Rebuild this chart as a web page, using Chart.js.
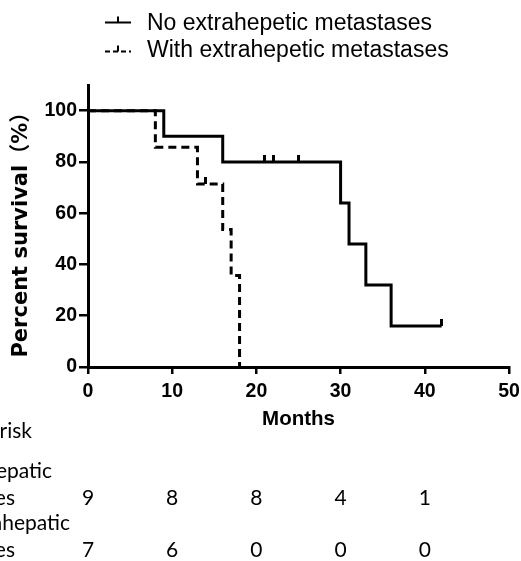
<!DOCTYPE html>
<html>
<head>
<meta charset="utf-8">
<script src="https://cdn.jsdelivr.net/npm/chart.js@4.4.1/dist/chart.umd.min.js"></script>
<style>
  html, body { margin: 0; padding: 0; background: #fff; }
  #wrap { width: 521px; height: 561px; }
</style>
</head>
<body>
<div id="wrap"><canvas id="km" width="521" height="561"></canvas></div>
<script>
// Kaplan-Meier curves, values
const groupNames = ['No extrahepetic metastases', 'With extrahepetic metastases'];

// time (months) of each step and survival (%) after it
const noExtTimes = [0, 9, 16, 30, 31, 33, 36, 42];
const noExtSurvival = [100, 90, 80, 64, 48, 32, 16, 16];
const noExtCensorTimes = [21, 22, 25, 42];
const noExtCensorSurvival = [80, 80, 80, 16];

const withExtTimes = [0, 8, 13, 16, 17, 18];
const withExtSurvival = [100, 85.7, 71.4, 53.6, 35.7, 0];
const withExtCensorTimes = [14];
const withExtCensorSurvival = [71.4];

const xTicks = [0, 10, 20, 30, 40, 50];
const yTicks = [0, 20, 40, 60, 80, 100];

// number at risk table
const riskTimes = [0, 10, 20, 30, 40];
const noExtAtRisk = [9, 8, 8, 4, 1];
const withExtAtRisk = [7, 6, 0, 0, 0];
const riskTitle = 'Number at risk';
const riskLabels = [['No extrahepatic', 'metastases'], ['With extrahepatic', 'metastases']];

const pts = (xs, ys) => xs.map((x, i) => ({ x, y: ys[i] }));

// small upward tick used for censored patients
function censorMark() {
    const c = document.createElement('canvas');
    c.width = 3;
    c.height = 14;
    const g = c.getContext('2d');
    g.fillStyle = '#000';
    g.fillRect(0, 0, 3, 7);
    return c;
}
const mark = censorMark();

const tickFont = { family: '"Liberation Sans", Arial, sans-serif', weight: 'bold', size: 19.5 };

// legend + at-risk table, drawn by hand
const extrasPlugin = {
    id: 'extras',
    afterDraw(chart) {
        const ctx = chart.ctx;
        const xs = chart.scales.x;
        ctx.save();
        ctx.fillStyle = '#000';
        ctx.strokeStyle = '#000';

        // legend
        ctx.font = '23px "Liberation Sans", Arial, sans-serif';
        ctx.textAlign = 'left';
        ctx.textBaseline = 'alphabetic';
        chart.data.datasets.slice(0, 2).forEach((ds, i) => {
            const ly = 22.5 + i * 29;
            ctx.lineWidth = 2;
            ctx.setLineDash(i === 1 ? [5, 3] : []);
            ctx.beginPath();
            ctx.moveTo(105, ly);
            ctx.lineTo(131, ly);
            ctx.stroke();
            ctx.setLineDash([]);
            ctx.beginPath();
            ctx.moveTo(118, ly);
            ctx.lineTo(118, ly - 6);
            ctx.stroke();
            ctx.fillText(ds.label, 147, 30 + i * 27);
        });

        // number at risk
        ctx.font = '21px Lato, "Open Sans", sans-serif';
        ctx.textAlign = 'right';
        ctx.fillText(riskTitle, 32, 438);
        ctx.fillText(riskLabels[0][0], 52, 478);
        ctx.fillText(riskLabels[0][1], 15, 505);
        ctx.fillText(riskLabels[1][0], 70, 530);
        ctx.fillText(riskLabels[1][1], 15, 557);

        ctx.textAlign = 'center';
        riskTimes.forEach((t, i) => {
            const px = xs.getPixelForValue(t);
            ctx.fillText(String(noExtAtRisk[i]), px, 505);
            ctx.fillText(String(withExtAtRisk[i]), px, 557);
        });
        ctx.restore();
    }
};

new Chart(document.getElementById('km'), {
    type: 'line',
    data: {
        datasets: [
            {
                label: groupNames[0],
                data: pts(noExtTimes, noExtSurvival),
                stepped: true,
                borderColor: '#000',
                borderWidth: 3,
                pointRadius: 0,
                fill: false
            },
            {
                label: groupNames[1],
                data: pts(withExtTimes, withExtSurvival),
                stepped: true,
                borderColor: '#000',
                borderWidth: 3,
                borderDash: [8, 5],
                pointRadius: 0,
                fill: false
            },
            {
                label: 'censored',
                data: pts(noExtCensorTimes, noExtCensorSurvival).concat(pts(withExtCensorTimes, withExtCensorSurvival)),
                showLine: false,
                pointStyle: mark,
                pointRadius: 5,
                borderColor: '#000',
                backgroundColor: '#000'
            }
        ]
    },
    options: {
        responsive: false,
        animation: false,
        layout: { padding: { top: 85, right: 12, bottom: 130, left: 0 } },
        plugins: {
            legend: { display: false },
            tooltip: { enabled: false }
        },
        scales: {
            x: {
                type: 'linear',
                min: 0,
                max: 50,
                afterBuildTicks: s => { s.ticks = xTicks.map(v => ({ value: v })); },
                afterFit: s => {
                    s.height = 64;
                    s.paddingLeft = 0;
                    s.paddingRight = 0;
                },
                border: { display: true, color: '#000', width: 3 },
                grid: { drawOnChartArea: false, drawTicks: true, tickLength: 7, color: '#000', lineWidth: 2.5 },
                ticks: { color: '#000', font: tickFont, padding: 6, maxRotation: 0, autoSkip: false },
                title: {
                    display: true,
                    text: 'Months',
                    color: '#000',
                    font: { family: '"Liberation Sans", Arial, sans-serif', weight: 'bold', size: 20.5 },
                    padding: { top: 0, bottom: -1 }
                }
            },
            y: {
                type: 'linear',
                min: 0,
                max: 110,
                afterBuildTicks: s => { s.ticks = yTicks.map(v => ({ value: v })); },
                afterFit: s => { s.width = 88; },
                border: { display: true, color: '#000', width: 3 },
                grid: { drawOnChartArea: false, drawTicks: true, tickLength: 9, color: '#000', lineWidth: 2.5 },
                ticks: { color: '#000', font: tickFont, padding: 2 },
                title: {
                    display: true,
                    text: 'Percent survival（%） ',
                    color: '#000',
                    font: { family: '"DejaVu Sans", "Noto Sans CJK SC", sans-serif', weight: 'bold', size: 21 },
                    padding: { top: 9, bottom: 0 }
                }
            }
        }
    },
    plugins: [extrasPlugin]
});
</script>
</body>
</html>
